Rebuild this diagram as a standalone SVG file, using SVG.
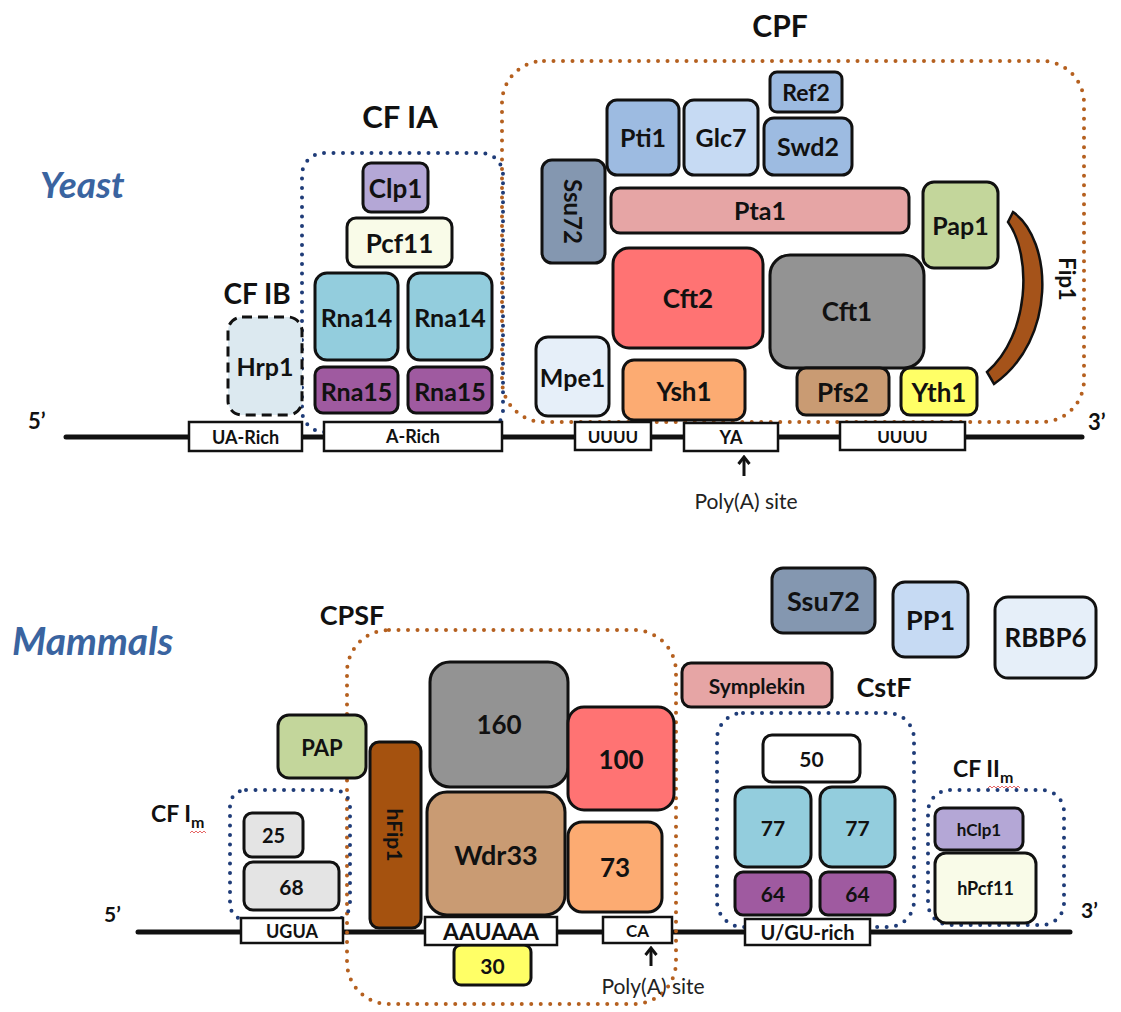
<svg xmlns="http://www.w3.org/2000/svg" width="1121" height="1012" viewBox="0 0 1121 1012">
<style>
.b{stroke:#111;stroke-width:3}
.s{fill:#fff;stroke:#111;stroke-width:2.5}
.t{font-family:Lato,"Liberation Sans",sans-serif;font-weight:bold;fill:#111;text-anchor:middle;dominant-baseline:central}
.r{font-family:Lato,"Liberation Sans",sans-serif;fill:#222;text-anchor:middle}
.h{font-family:Lato,"Liberation Sans",sans-serif;font-weight:bold;fill:#111}
.sp{font-family:Lato,"Liberation Sans",sans-serif;font-weight:bold;font-style:italic;fill:#3a64a0}
.db{fill:none;stroke:#1f3c78;stroke-width:4;stroke-dasharray:0 9.5;stroke-linecap:round}
.do{fill:none;stroke:#b5601f;stroke-width:4;stroke-dasharray:0 9.5;stroke-linecap:round}
.line{stroke:#111;stroke-width:5;stroke-linecap:round}
.lav{fill:#b4a7d6}.cream{fill:#f9fbe8}.cyan{fill:#93cddd}.purp{fill:#9f5aa0}
.steel{fill:#9dbbe1}.pale{fill:#c6daf3}.slate{fill:#8497b0}.pink{fill:#e6a5a5}
.olive{fill:#c3d69b}.red{fill:#ff7373}.grey{fill:#939393}.ice{fill:#e6eff9}
.orng{fill:#fcab72}.tan{fill:#c99b73}.yel{fill:#ffff66}.lg{fill:#e4e4e4}
</style>
<defs>
<marker id="ah" viewBox="0 0 12 14" refX="10" refY="7" markerWidth="12" markerHeight="14" markerUnits="userSpaceOnUse" orient="auto">
<path d="M3,1.5 L10,7 L3,12.5" fill="none" stroke="#111" stroke-width="3" stroke-linejoin="miter"/>
</marker>
</defs>

<!-- ===== YEAST ===== -->
<text class="sp" x="40" y="198" font-size="37">Yeast</text>
<text class="h" x="28" y="429" font-size="22">5’</text>
<text class="h" x="1088" y="430" font-size="22">3’</text>

<g id="connectors">
<line class="line" x1="66" y1="437" x2="1082" y2="437"/>
<line x1="744" y1="476" x2="744" y2="457" stroke="#111" stroke-width="3" marker-end="url(#ah)"/>
<line class="line" x1="138" y1="932" x2="1070" y2="932"/>
<line x1="651" y1="966" x2="651" y2="948" stroke="#111" stroke-width="3" marker-end="url(#ah)"/>
</g>

<!-- complex outlines -->
<g id="cfia"><rect class="db" x="302" y="153" width="201" height="279" rx="22"/>
<text class="h" x="400" y="128" font-size="31" text-anchor="middle">CF IA</text></g>
<g id="cpf"><rect class="do" x="502" y="61" width="582" height="361" rx="42"/>
<text class="h" x="780" y="37" font-size="30" text-anchor="middle">CPF</text></g>
<g id="cfib"><text class="h" x="257" y="304" font-size="28" text-anchor="middle">CF IB</text></g>

<g id="hrp1"><rect x="228" y="317" width="74" height="98" rx="14" fill="#dce9f0" stroke="#111" stroke-width="3" stroke-dasharray="10 6"/><text class="t" x="265" y="366" font-size="25">Hrp1</text></g>
<g id="clp1"><rect class="b lav" x="363" y="163" width="65" height="49" rx="8"/><text class="t" x="395.5" y="188" font-size="26">Clp1</text></g>
<g id="pcf11"><rect class="b cream" x="347" y="218" width="105" height="49" rx="9"/><text class="t" x="399.5" y="243" font-size="26">Pcf11</text></g>
<g id="rna14a"><rect class="b cyan" x="315" y="273" width="83" height="87" rx="12"/><text class="t" x="356.5" y="317" font-size="25">Rna14</text></g>
<g id="rna14b"><rect class="b cyan" x="408" y="273" width="84" height="87" rx="12"/><text class="t" x="450" y="317" font-size="25">Rna14</text></g>
<g id="rna15a"><rect class="b purp" x="315" y="367" width="83" height="46" rx="8"/><text class="t" x="356.5" y="391" font-size="25">Rna15</text></g>
<g id="rna15b"><rect class="b purp" x="408" y="367" width="84" height="46" rx="8"/><text class="t" x="450" y="391" font-size="25">Rna15</text></g>

<g id="ref2"><rect class="b steel" x="770" y="72" width="72" height="40" rx="7"/><text class="t" x="806" y="92" font-size="23">Ref2</text></g>
<g id="pti1"><rect class="b steel" x="607" y="100" width="72" height="75" rx="10"/><text class="t" x="643" y="137" font-size="25">Pti1</text></g>
<g id="glc7"><rect class="b pale" x="684" y="100" width="74" height="75" rx="10"/><text class="t" x="721" y="137" font-size="25">Glc7</text></g>
<g id="swd2"><rect class="b steel" x="764" y="118" width="88" height="57" rx="10"/><text class="t" x="808" y="146" font-size="25">Swd2</text></g>
<g id="ssu72y"><rect class="b slate" x="542" y="160" width="63" height="103" rx="10"/><text class="t" transform="translate(573.5,211.5) rotate(90)" x="0" y="0" font-size="24">Ssu72</text></g>
<g id="pta1"><rect class="b pink" x="611" y="188" width="298" height="45" rx="9"/><text class="t" x="760" y="210" font-size="25">Pta1</text></g>
<g id="pap1"><rect class="b olive" x="923" y="182" width="75" height="86" rx="11"/><text class="t" x="960.5" y="225" font-size="25">Pap1</text></g>
<g id="fip1"><path d="M1008,222 L1013,212 C1053,240 1057,340 994,384 L987,372 C1030,335 1032,255 1008,222 Z" fill="#a5531a" stroke="#111" stroke-width="2.5"/><text class="t" transform="translate(1067,279) rotate(90)" x="0" y="0" font-size="22">Fip1</text></g>
<g id="cft2"><rect class="b red" x="613" y="248" width="150" height="100" rx="16"/><text class="t" x="688" y="298" font-size="26">Cft2</text></g>
<g id="cft1"><rect class="b grey" x="770" y="255" width="154" height="113" rx="20"/><text class="t" x="847" y="311" font-size="26">Cft1</text></g>
<g id="mpe1"><rect class="b ice" x="536" y="337" width="73" height="79" rx="12"/><text class="t" x="572.5" y="377" font-size="25">Mpe1</text></g>
<g id="ysh1"><rect class="b orng" x="623" y="360" width="122" height="60" rx="11"/><text class="t" x="684" y="391" font-size="26">Ysh1</text></g>
<g id="pfs2"><rect class="b tan" x="797" y="368" width="92" height="47" rx="9"/><text class="t" x="843" y="392" font-size="26">Pfs2</text></g>
<g id="yth1"><rect class="b yel" x="901" y="368" width="76" height="47" rx="9"/><text class="t" x="939" y="392" font-size="26">Yth1</text></g>

<g id="ua-rich"><rect class="s" x="189" y="422" width="113" height="29"/><text class="t" x="245.5" y="437" font-size="18">UA-Rich</text></g>
<g id="a-rich"><rect class="s" x="324" y="422" width="178" height="29"/><text class="t" x="413" y="436" font-size="18">A-Rich</text></g>
<g id="uuuu1"><rect class="s" x="575" y="422" width="76" height="28"/><text class="t" x="613" y="436" font-size="17">UUUU</text></g>
<g id="ya"><rect class="s" x="684" y="423" width="94" height="28"/><text class="t" x="731" y="437" font-size="18">YA</text></g>
<g id="uuuu2"><rect class="s" x="840" y="422" width="125" height="28"/><text class="t" x="902.5" y="436" font-size="17">UUUU</text></g>
<text class="r" x="746" y="509" font-size="21">Poly(A) site</text>

<!-- ===== MAMMALS ===== -->
<text class="sp" x="12" y="655" font-size="39">Mammals</text>
<text class="h" x="104" y="922" font-size="21">5’</text>
<text class="h" x="1081" y="918" font-size="21">3’</text>

<g id="cpsf"><rect class="do" x="347" y="630" width="329" height="374" rx="42"/>
<text class="h" x="352" y="625" font-size="27" text-anchor="middle">CPSF</text></g>
<g id="cfim"><rect class="db" x="230" y="790" width="120" height="130" rx="16"/>
<text class="h" x="151" y="822" font-size="23">CF I<tspan font-size="16" dy="6">m</tspan></text>
<path d="M190,833 l2,-2 l2,2 l2,-2 l2,2 l2,-2 l2,2 l2,-2 l2,2" fill="none" stroke="#e04040" stroke-width="0.8"/></g>
<g id="cstf"><rect class="db" x="717" y="713" width="197" height="214" rx="26"/>
<text class="h" x="884" y="697" font-size="27" text-anchor="middle">CstF</text></g>
<g id="cfiim"><rect class="db" x="928" y="790" width="136" height="135" rx="22"/>
<text class="h" x="953" y="777" font-size="23">CF II<tspan font-size="16" dy="6">m</tspan></text>
<path d="M988,788 l2,-2 l2,2 l2,-2 l2,2 l2,-2 l2,2 l2,-2 l2,2 l2,-2 l2,2 l2,-2 l2,2 l2,-2 l2,2 l2,-2 l2,2" fill="none" stroke="#e04040" stroke-width="0.8"/></g>

<g id="pap"><rect class="b olive" x="278" y="715" width="88" height="63" rx="11"/><text class="t" x="322" y="747" font-size="22">PAP</text></g>
<g id="n25"><rect class="b lg" x="244" y="813" width="59" height="44" rx="8"/><text class="t" x="273.5" y="835" font-size="20">25</text></g>
<g id="n68"><rect class="b lg" x="244" y="862" width="95" height="48" rx="9"/><text class="t" x="291.5" y="886" font-size="21">68</text></g>
<g id="hfip1"><rect x="370" y="742" width="51" height="186" rx="9" fill="#a5520f" stroke="#111" stroke-width="3"/><text class="t" transform="translate(395.5,835) rotate(90)" x="0" y="0" font-size="21">hFip1</text></g>
<g id="n160"><rect class="b grey" x="430" y="662" width="138" height="125" rx="20"/><text class="t" x="499" y="724" font-size="26">160</text></g>
<g id="wdr33"><rect class="b tan" x="427" y="792" width="138" height="123" rx="20"/><text class="t" x="496" y="854" font-size="27">Wdr33</text></g>
<g id="n100"><rect class="b red" x="568" y="707" width="106" height="103" rx="16"/><text class="t" x="621" y="759" font-size="26">100</text></g>
<g id="n73"><rect class="b orng" x="568" y="822" width="94" height="90" rx="14"/><text class="t" x="615" y="867" font-size="26">73</text></g>
<g id="n30"><rect class="b yel" x="454" y="945" width="77" height="40" rx="7"/><text class="t" x="492.5" y="965" font-size="21">30</text></g>
<g id="symplekin"><rect class="b pink" x="682" y="663" width="150" height="44" rx="9"/><text class="t" x="757" y="685" font-size="21">Symplekin</text></g>
<g id="ssu72m"><rect class="b slate" x="772" y="568" width="103" height="65" rx="11"/><text class="t" x="823.5" y="600" font-size="27">Ssu72</text></g>
<g id="pp1"><rect class="b pale" x="893" y="582" width="75" height="75" rx="12"/><text class="t" x="930.5" y="619" font-size="27">PP1</text></g>
<g id="rbbp6"><rect class="b ice" x="995" y="597" width="101" height="81" rx="13"/><text class="t" x="1045.5" y="637" font-size="26">RBBP6</text></g>
<g id="n50"><rect class="b" fill="#fff" x="763" y="735" width="97" height="47" rx="9"/><text class="t" x="811.5" y="758" font-size="21">50</text></g>
<g id="n77a"><rect class="b cyan" x="735" y="787" width="76" height="80" rx="12"/><text class="t" x="773" y="827" font-size="21">77</text></g>
<g id="n77b"><rect class="b cyan" x="820" y="787" width="75" height="80" rx="12"/><text class="t" x="857.5" y="827" font-size="21">77</text></g>
<g id="n64a"><rect class="b purp" x="735" y="872" width="76" height="43" rx="8"/><text class="t" x="773" y="893" font-size="21">64</text></g>
<g id="n64b"><rect class="b purp" x="820" y="872" width="75" height="43" rx="8"/><text class="t" x="857.5" y="893" font-size="21">64</text></g>
<g id="hclp1"><rect class="b lav" x="935" y="808" width="88" height="42" rx="8"/><text class="t" x="979" y="829" font-size="17">hClp1</text></g>
<g id="hpcf11"><rect class="b cream" x="935" y="853" width="101" height="70" rx="11"/><text class="t" x="985.5" y="888" font-size="18">hPcf11</text></g>

<g id="ugua"><rect class="s" x="241" y="918" width="102" height="25"/><text class="t" x="292" y="931" font-size="18">UGUA</text></g>
<g id="aauaaa"><rect class="s" x="425" y="917" width="132" height="28"/><text class="t" x="491" y="931" font-size="23">AAUAAA</text></g>
<g id="ca"><rect class="s" x="603" y="917" width="69" height="26"/><text class="t" x="637.5" y="930" font-size="17">CA</text></g>
<g id="ugu-rich"><rect class="s" x="745" y="919" width="125" height="26"/><text class="t" x="807.5" y="932" font-size="20">U/GU-rich</text></g>
<text class="r" x="653" y="994" font-size="21">Poly(A) site</text>
</svg>
